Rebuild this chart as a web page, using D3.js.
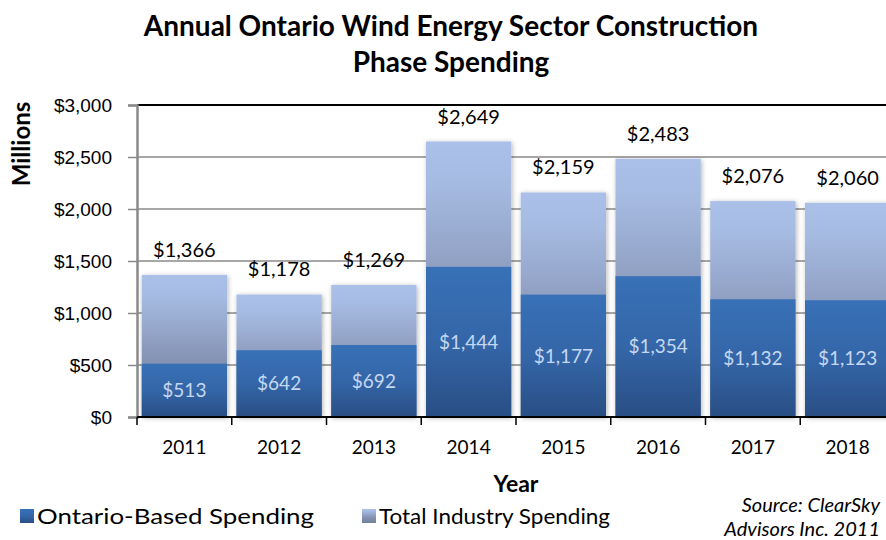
<!DOCTYPE html>
<html>
<head>
<meta charset="utf-8">
<script src="https://cdn.jsdelivr.net/npm/d3@7"></script>
<style>
  body { margin: 0; background: #fff; }
  svg { font-family: Lato, "Open Sans", sans-serif; }
</style>
</head>
<body>
<svg id="chart" width="886" height="540"></svg>
<script>
const years = ["2011", "2012", "2013", "2014", "2015", "2016", "2017", "2018"];
const ontarioSpending = [513, 642, 692, 1444, 1177, 1354, 1132, 1123];
const totalSpending = [1366, 1178, 1269, 2649, 2159, 2483, 2076, 2060];
const yTicks = [0, 500, 1000, 1500, 2000, 2500, 3000];
const seriesNames = ["Ontario-Based Spending", "Total Industry Spending"];

const rows = years.map((y, i) => ({ year: y, ontario: ontarioSpending[i], total: totalSpending[i] }));

const svg = d3.select("#chart");
const margin = { left: 137, top: 105, right: 895, bottom: 417 };

const x = d3.scaleBand().domain(years).range([margin.left, margin.right]).paddingInner(0.1).paddingOuter(0.05);
const y = d3.scaleLinear().domain([0, 3000]).range([margin.bottom, margin.top]);
const fmt = d3.format("$,");

// gradients + shadow
const defs = svg.append("defs");
const gTotal = defs.append("linearGradient").attr("id", "gTotal").attr("x1", 0).attr("y1", 0).attr("x2", 0).attr("y2", 1);
gTotal.append("stop").attr("offset", "0%").attr("stop-color", "#abc0e8");
gTotal.append("stop").attr("offset", "15%").attr("stop-color", "#a6bbe2");
gTotal.append("stop").attr("offset", "60%").attr("stop-color", "#8593b4");
gTotal.append("stop").attr("offset", "100%").attr("stop-color", "#728199");
const gOnt = defs.append("linearGradient").attr("id", "gOnt").attr("x1", 0).attr("y1", 0).attr("x2", 0).attr("y2", 1);
gOnt.append("stop").attr("offset", "0%").attr("stop-color", "#3871b7");
gOnt.append("stop").attr("offset", "50%").attr("stop-color", "#3466a8");
gOnt.append("stop").attr("offset", "100%").attr("stop-color", "#294e84");
const shadow = defs.append("filter").attr("id", "shadow").attr("x", "-20%").attr("y", "-20%").attr("width", "140%").attr("height", "140%");
shadow.append("feDropShadow").attr("dx", 1).attr("dy", 1).attr("stdDeviation", 2.5)
  .attr("flood-color", "#000").attr("flood-opacity", 0.3);

// gridlines
svg.append("g")
  .selectAll("line")
  .data(yTicks.filter(d => d > 0))
  .join("line")
  .attr("x1", margin.left).attr("x2", 886)
  .attr("y1", d => y(d)).attr("y2", d => y(d))
  .attr("stroke", d => d === 3000 ? "#000" : "#8a8a8a")
  .attr("stroke-width", d => d === 3000 ? 2 : 1.5);

// total bars (behind)
svg.append("g")
  .selectAll("rect")
  .data(rows)
  .join("rect")
  .attr("x", d => x(d.year))
  .attr("width", x.bandwidth())
  .attr("y", d => y(d.total))
  .attr("height", d => y(0) - y(d.total))
  .attr("fill", "url(#gTotal)")
  .attr("filter", "url(#shadow)");

// ontario bars
svg.append("g")
  .selectAll("rect")
  .data(rows)
  .join("rect")
  .attr("x", d => x(d.year))
  .attr("width", x.bandwidth())
  .attr("y", d => y(d.ontario))
  .attr("height", d => y(0) - y(d.ontario))
  .attr("fill", "url(#gOnt)");

// y axis
const yAxis = svg.append("g")
  .attr("transform", `translate(${margin.left},0)`)
  .call(d3.axisLeft(y).tickValues(yTicks).tickFormat(fmt).tickSize(9).tickPadding(16));
yAxis.select(".domain").attr("stroke", "#8a8a8a").attr("stroke-width", 2.5);
yAxis.selectAll(".tick line").attr("stroke", "#8a8a8a").attr("stroke-width", 1.5);
yAxis.selectAll(".tick text").attr("font-size", 19).attr("fill", "#000");

// x axis line + ticks at category boundaries
svg.append("line")
  .attr("x1", margin.left).attr("x2", 886)
  .attr("y1", y(0)).attr("y2", y(0))
  .attr("stroke", "#000").attr("stroke-width", 2);
const half = x.step() * x.paddingInner() / 2;
svg.append("g")
  .selectAll("line")
  .data(years)
  .join("line")
  .attr("x1", d => x(d) - half)
  .attr("x2", d => x(d) - half)
  .attr("y1", y(0)).attr("y2", y(0) + 8)
  .attr("stroke", "#000").attr("stroke-width", 1.5);

svg.append("g")
  .selectAll("text")
  .data(years)
  .join("text")
  .attr("x", d => x(d) + x.bandwidth() / 2)
  .attr("y", 454)
  .attr("text-anchor", "middle")
  .attr("font-size", 19)
  .text(d => d);

// value labels
svg.append("g")
  .selectAll("text")
  .data(rows)
  .join("text")
  .attr("x", d => x(d.year) + x.bandwidth() / 2)
  .attr("y", d => y(d.total) - 18)
  .attr("text-anchor", "middle")
  .attr("font-size", 20)
  .attr("fill", "#000")
  .text(d => fmt(d.total));

svg.append("g")
  .selectAll("text")
  .data(rows)
  .join("text")
  .attr("x", d => x(d.year) + x.bandwidth() / 2)
  .attr("y", d => (y(d.ontario) + y(0)) / 2)
  .attr("dy", "0.36em")
  .attr("text-anchor", "middle")
  .attr("font-size", 19)
  .attr("fill", "#c5d8f1")
  .text(d => fmt(d.ontario));

// titles
svg.append("text").attr("x", 451).attr("y", 36).attr("text-anchor", "middle")
  .attr("font-size", 28).attr("font-weight", "bold")
  .text("Annual Ontario Wind Energy Sector Construction");
svg.append("text").attr("x", 451).attr("y", 72).attr("text-anchor", "middle")
  .attr("font-size", 28).attr("font-weight", "bold")
  .text("Phase Spending");
svg.append("text").attr("transform", "translate(30,144) rotate(-90)").attr("text-anchor", "middle")
  .attr("font-size", 24).attr("font-weight", "bold").text("Millions");
svg.append("text").attr("x", 516).attr("y", 492).attr("text-anchor", "middle")
  .attr("font-size", 23).attr("font-weight", "bold").text("Year");

// legend
const legend = svg.append("g");
const legendX = [20, 362];
const legendWidth = [277, 231];
const legendFill = ["url(#gOnt)", "url(#gTotal)"];
seriesNames.forEach((name, i) => {
  legend.append("rect").attr("x", legendX[i]).attr("y", 509).attr("width", 14).attr("height", 14)
    .attr("fill", legendFill[i]);
  legend.append("text").attr("x", legendX[i] + 17).attr("y", 524).attr("font-size", 21)
    .attr("textLength", legendWidth[i]).attr("lengthAdjust", "spacingAndGlyphs").text(name);
});

// source
svg.append("text").attr("x", 880).attr("y", 512).attr("text-anchor", "end")
  .attr("font-size", 20).attr("font-style", "italic").text("Source: ClearSky");
svg.append("text").attr("x", 880).attr("y", 536).attr("text-anchor", "end")
  .attr("font-size", 20).attr("font-style", "italic").text("Advisors Inc. 2011");
</script>
</body>
</html>
